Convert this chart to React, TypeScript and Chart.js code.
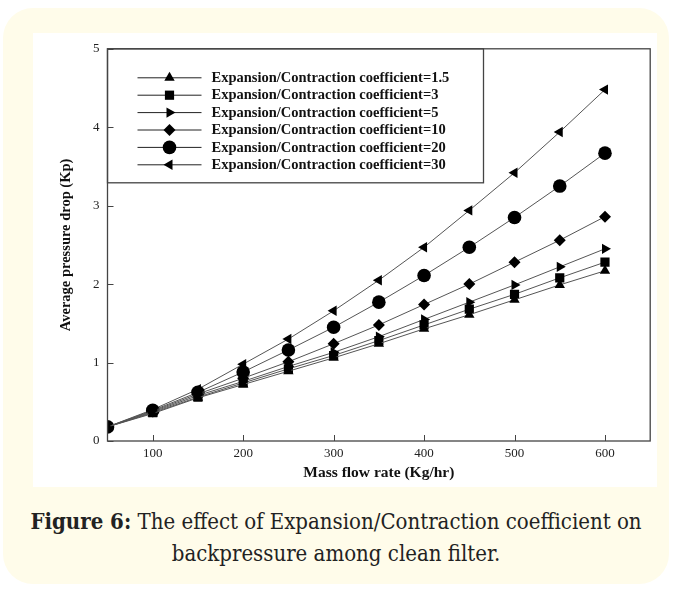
import React, { useEffect, useRef } from "react";
import { Chart, registerables } from "chart.js";

Chart.register(...registerables);

// Mass flow rate (Kg/hr)
const massFlow = [50, 100, 150, 200, 250, 300, 350, 400, 450, 500, 550, 600];

// Average pressure drop (Kp) per expansion/contraction coefficient
const coef1_5 = [0.18, 0.35, 0.55, 0.72, 0.89, 1.06, 1.24, 1.43, 1.61, 1.80, 1.99, 2.17];
const coef3 = [0.18, 0.36, 0.56, 0.74, 0.92, 1.09, 1.28, 1.48, 1.68, 1.87, 2.08, 2.28];
const coef5 = [0.18, 0.37, 0.58, 0.76, 0.95, 1.13, 1.33, 1.55, 1.77, 1.99, 2.22, 2.45];
const coef10 = [0.18, 0.38, 0.60, 0.80, 1.01, 1.24, 1.48, 1.74, 2.00, 2.28, 2.56, 2.86];
const coef20 = [0.18, 0.39, 0.62, 0.88, 1.16, 1.45, 1.77, 2.11, 2.47, 2.85, 3.25, 3.67];
const coef30 = [0.18, 0.40, 0.66, 0.98, 1.30, 1.66, 2.05, 2.47, 2.94, 3.42, 3.94, 4.48];

const seriesNames = [
  "Expansion/Contraction coefficient=1.5",
  "Expansion/Contraction coefficient=3",
  "Expansion/Contraction coefficient=5",
  "Expansion/Contraction coefficient=10",
  "Expansion/Contraction coefficient=20",
  "Expansion/Contraction coefficient=30",
];

const xTicks = [100, 200, 300, 400, 500, 600];
const yTicks = [0, 1, 2, 3, 4, 5];

const markerStyles: { style: any; rotation: number; radius: number }[] = [
  { style: "triangle", rotation: 0, radius: 6 },
  { style: "rect", rotation: 0, radius: 6.5 },
  { style: "triangle", rotation: 90, radius: 6 },
  { style: "rectRot", rotation: 0, radius: 6 },
  { style: "circle", rotation: 0, radius: 6.8 },
  { style: "triangle", rotation: -90, radius: 6 },
];

const seriesValues = [coef1_5, coef3, coef5, coef10, coef20, coef30];

const SERIF = "'Liberation Serif', 'Times New Roman', serif";
const LINE_COLOR = "#555";
const FRAME_COLOR = "#444";

// Frame around the plot area plus tick marks that point into it
const framePlugin = {
  id: "frameAndInnerTicks",
  afterDraw(chart: any) {
    const { ctx, chartArea: a, scales } = chart;
    ctx.save();
    ctx.strokeStyle = FRAME_COLOR;
    ctx.lineWidth = 1.3;
    ctx.strokeRect(a.left, a.top, a.right - a.left, a.bottom - a.top);
    ctx.lineWidth = 1;
    ctx.beginPath();
    for (const v of xTicks) {
      const px = Math.round(scales.x.getPixelForValue(v)) + 0.5;
      ctx.moveTo(px, a.bottom);
      ctx.lineTo(px, a.bottom - 6);
    }
    for (const v of yTicks) {
      const py = Math.round(scales.y.getPixelForValue(v)) + 0.5;
      ctx.moveTo(a.left, py);
      ctx.lineTo(a.left + 6, py);
    }
    ctx.stroke();
    ctx.restore();
  },
};

function drawMarker(ctx: CanvasRenderingContext2D, ds: any, x: number, y: number) {
  const r = ds.pointRadius;
  const rot = ((ds.pointRotation || 0) * Math.PI) / 180;
  ctx.beginPath();
  if (ds.pointStyle === "circle") {
    ctx.arc(x, y, r, 0, Math.PI * 2);
  } else if (ds.pointStyle === "rect") {
    const s = Math.SQRT1_2 * r;
    ctx.rect(x - s, y - s, 2 * s, 2 * s);
  } else if (ds.pointStyle === "rectRot") {
    ctx.moveTo(x - r, y);
    ctx.lineTo(x, y - r);
    ctx.lineTo(x + r, y);
    ctx.lineTo(x, y + r);
    ctx.closePath();
  } else {
    for (let k = 0; k < 3; k++) {
      const ang = rot - Math.PI / 2 + (k * 2 * Math.PI) / 3;
      const px = x + Math.cos(ang) * r;
      const py = y + Math.sin(ang) * r;
      if (k === 0) ctx.moveTo(px, py);
      else ctx.lineTo(px, py);
    }
    ctx.closePath();
  }
  ctx.fill();
}

// Boxed legend in the upper-left corner of the plot: line + marker + label
const boxLegendPlugin = {
  id: "boxLegend",
  afterDatasetsDraw(chart: any) {
    const { ctx, chartArea: a } = chart;
    const boxW = 376;
    const boxH = 134;
    ctx.save();
    ctx.fillStyle = "#fff";
    ctx.fillRect(a.left, a.top, boxW, boxH);
    ctx.strokeStyle = FRAME_COLOR;
    ctx.lineWidth = 1.3;
    ctx.strokeRect(a.left, a.top, boxW, boxH);
    chart.data.datasets.forEach((ds: any, i: number) => {
      const y = a.top + 29 + i * 17.4;
      ctx.strokeStyle = "#222";
      ctx.lineWidth = 1;
      ctx.beginPath();
      ctx.moveTo(a.left + 30, y);
      ctx.lineTo(a.left + 94, y);
      ctx.stroke();
      ctx.fillStyle = "#000";
      drawMarker(ctx, ds, a.left + 62, y);
      ctx.fillStyle = "#111";
      ctx.font = `bold 14.5px ${SERIF}`;
      ctx.textBaseline = "middle";
      ctx.textAlign = "left";
      ctx.fillText(ds.label, a.left + 104, y + 0.5);
    });
    ctx.restore();
  },
};

function PressureChart() {
  const canvasRef = useRef<HTMLCanvasElement | null>(null);

  useEffect(() => {
    const canvas = canvasRef.current;
    if (!canvas) return;
    const chart = new Chart(canvas, {
      type: "line",
      data: {
        datasets: seriesValues.map((vals, i) => ({
          label: seriesNames[i],
          data: massFlow.map((x, j) => ({ x, y: vals[j] })),
          borderColor: LINE_COLOR,
          borderWidth: 1,
          backgroundColor: "#000",
          pointBackgroundColor: "#000",
          pointBorderColor: "#000",
          pointBorderWidth: 0,
          pointStyle: markerStyles[i].style,
          pointRotation: markerStyles[i].rotation,
          pointRadius: markerStyles[i].radius,
          pointHoverRadius: markerStyles[i].radius,
          tension: 0,
          fill: false,
        })),
      },
      options: {
        animation: false,
        responsive: false,
        maintainAspectRatio: false,
        events: [],
        layout: { padding: { top: 13, right: 5, left: 0, bottom: 0 } },
        plugins: {
          legend: { display: false },
          tooltip: { enabled: false },
          title: { display: false },
        },
        scales: {
          x: {
            type: "linear",
            min: 50,
            max: 650,
            afterBuildTicks: (scale: any) => {
              scale.ticks = xTicks.map((v) => ({ value: v }));
            },
            afterFit: (scale: any) => {
              scale.height = 46;
            },
            grid: { display: false, drawTicks: false },
            border: { display: false },
            ticks: {
              color: "#222",
              padding: 5,
              maxRotation: 0,
              autoSkip: false,
              font: { family: SERIF, size: 13 },
            },
            title: {
              display: true,
              text: "Mass flow rate (Kg/hr)",
              color: "#111",
              padding: { top: 0, bottom: 5 },
              font: { family: SERIF, size: 15.5, weight: "bold" },
            },
          },
          y: {
            type: "linear",
            min: 0,
            max: 5,
            afterBuildTicks: (scale: any) => {
              scale.ticks = yTicks.map((v) => ({ value: v }));
            },
            afterFit: (scale: any) => {
              scale.width = 74.5;
            },
            grid: { display: false, drawTicks: false },
            border: { display: false },
            ticks: {
              color: "#222",
              padding: 8,
              font: { family: SERIF, size: 13 },
            },
            title: {
              display: true,
              text: "Average pressure drop (Kp)",
              color: "#111",
              padding: { top: 25, bottom: 0 },
              font: { family: SERIF, size: 14.5, weight: "bold" },
            },
          },
        },
      },
      plugins: [framePlugin, boxLegendPlugin],
    } as any);
    return () => chart.destroy();
  }, []);

  return <canvas ref={canvasRef} width={624} height={454} style={{ display: "block" }} />;
}

export default function App() {
  return (
    <div
      style={{
        position: "absolute",
        left: 0,
        top: 0,
        width: 675,
        height: 590,
        background: "#fff",
        overflow: "hidden",
      }}
    >
      <div
        style={{
          position: "absolute",
          left: 3,
          top: 8,
          width: 666,
          height: 576,
          background: "#FFFCEA",
          borderRadius: 30,
        }}
      />
      <div
        style={{
          position: "absolute",
          left: 33,
          top: 33,
          width: 624,
          height: 454,
          background: "#fff",
        }}
      >
        <PressureChart />
      </div>
      <div
        style={{
          position: "absolute",
          left: 3,
          top: 505,
          width: 666,
          textAlign: "center",
          fontFamily: "'DejaVu Serif Condensed', 'DejaVu Serif', serif",
          fontSize: 22,
          lineHeight: "32px",
          color: "#222",
        }}
      >
        <span style={{ fontWeight: "bold" }}>Figure 6:</span> The effect of Expansion/Contraction coefficient on
        <br />
        backpressure among clean filter.
      </div>
    </div>
  );
}
